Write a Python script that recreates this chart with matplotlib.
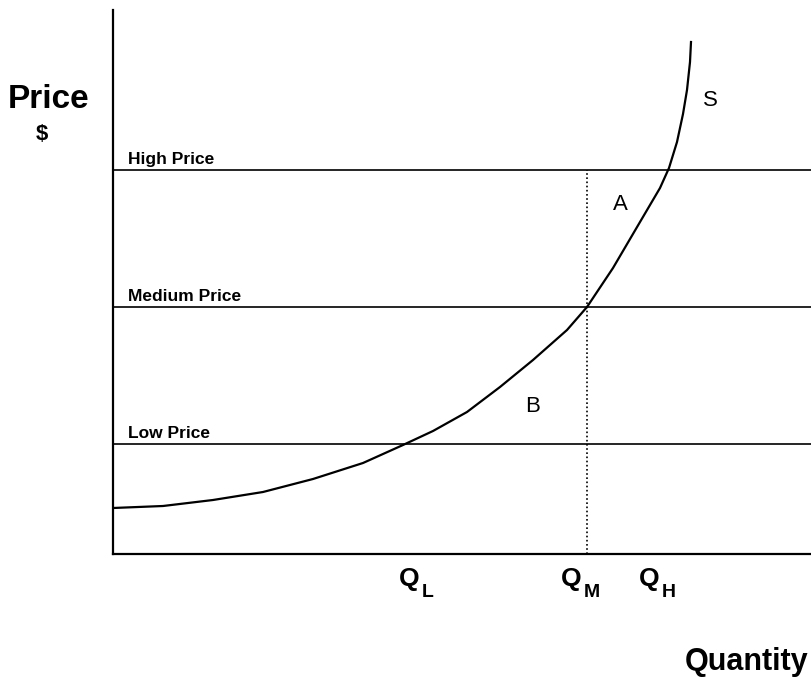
import matplotlib
matplotlib.use("Agg")
import matplotlib.pyplot as plt

plt.rcParams['font.family'] = ['Liberation Sans', 'DejaVu Sans']

# Supply curve (quantity, price) in chart units
supply_q = [0, 50, 100, 150, 200, 250, 290, 320, 354, 387, 420, 454, 474, 500, 527, 547, 556, 564, 570, 574, 577, 578]
supply_p = [46, 48, 54, 62, 75, 91, 109, 123, 142, 167, 194, 224, 247, 286, 332, 366, 386, 412, 440, 464, 492, 512]

price_levels = [384, 247, 110]
price_labels = ["High Price", "Medium Price", "Low Price"]

q_medium = 474
q_subscripts = ["L", "M", "H"]
q_label_left_px = [399, 561, 639]

region_labels = ["A", "B", "S"]
region_x = [507, 420, 597]
region_y = [350, 147, 453]

W, H = 812, 677
fig = plt.figure(figsize=(W / 100, H / 100), dpi=100)
ax = fig.add_axes([113 / W, 123 / H, 699 / W, 544 / H])
ax.set_xlim(0, 699)
ax.set_ylim(0, 544)
for s in ["top", "right"]:
    ax.spines[s].set_visible(False)
for s in ["left", "bottom"]:
    ax.spines[s].set_linewidth(1.6)
ax.set_xticks([])
ax.set_yticks([])

for lvl, lab in zip(price_levels, price_labels):
    ax.axhline(lvl, color="black", lw=1.2)
    ax.text(15, lvl + 3, lab, fontsize=12.5, fontweight="bold", ha="left", va="bottom")

ax.plot([q_medium, q_medium], [0, price_levels[0]], color="black", lw=1.2, ls=(0, (1, 1.5)))
ax.plot(supply_q, supply_p, color="black", lw=1.6, solid_joinstyle="round")

for lab, x, y in zip(region_labels, region_x, region_y):
    ax.text(x, y, lab, fontsize=16, ha="center", va="center")


def fx(px):
    return px / W


def fy(py):
    return 1 - py / H


for sub, x in zip(q_subscripts, q_label_left_px):
    fig.text(fx(x), fy(586), "Q", fontsize=19, fontweight="bold", ha="left", va="baseline")
    fig.text(fx(x + 23), fy(597), sub, fontsize=14, fontweight="bold", ha="left", va="baseline")

fig.text(fx(49), fy(99), "Price", fontsize=24, fontweight="bold", ha="center", va="center")
fig.text(fx(42), fy(135), "$", fontsize=16, fontweight="bold", ha="center", va="center")
fig.text(fx(808), fy(670), "Quantity", fontsize=22, fontweight="bold", ha="right", va="baseline")

fig.savefig("out.png", dpi=100)
